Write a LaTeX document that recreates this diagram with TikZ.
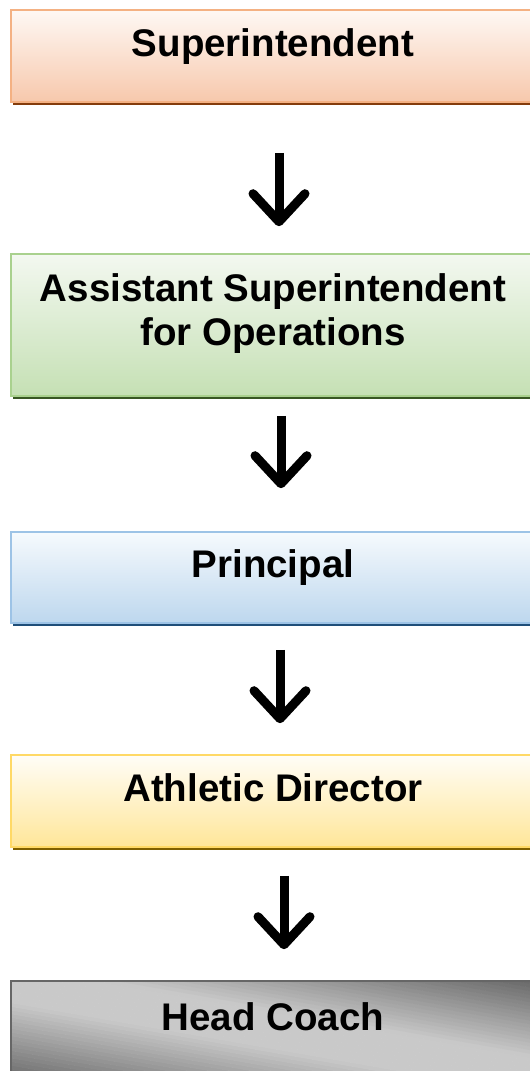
\documentclass[tikz,border=0pt]{standalone}
\usepackage{fontspec}
\setmainfont{Liberation Sans}
\usetikzlibrary{arrows.meta}
\usetikzlibrary{shadows}

\definecolor{supTop}{HTML}{FEF8F4}
\definecolor{supBottom}{HTML}{F7C8AC}
\definecolor{supLine}{HTML}{F4B183}
\definecolor{supShadow}{HTML}{843C0C}
\definecolor{opsTop}{HTML}{F3F8F0}
\definecolor{opsBottom}{HTML}{C5E0B4}
\definecolor{opsLine}{HTML}{A9D18E}
\definecolor{opsShadow}{HTML}{385723}
\definecolor{prinTop}{HTML}{F6FAFD}
\definecolor{prinBottom}{HTML}{BDD7EE}
\definecolor{prinLine}{HTML}{9DC3E6}
\definecolor{prinShadow}{HTML}{1F4E79}
\definecolor{athTop}{HTML}{FFFDF7}
\definecolor{athBottom}{HTML}{FFE699}
\definecolor{athLine}{HTML}{FFD966}
\definecolor{athShadow}{HTML}{7F6000}
\definecolor{coachDark}{HTML}{666666}
\definecolor{coachLight}{HTML}{C9C9C9}
\definecolor{coachLine}{HTML}{666666}

\tikzset{
  orgbox/.style = {rectangle, minimum width = 524pt, minimum height = 92pt, line width = 1.6pt,
    font = \fontsize{38.5}{44}\selectfont\bfseries, align = center,
    text height = 20pt, text depth = 20pt},
  orgshadow/.style = {general shadow = {fill = #1, shadow xshift = 2pt, shadow yshift = -3pt}},
  downarrow/.style = {line width = 9pt, -{Straight Barb[length = 28pt, width = 52pt, round]}}
}

\begin{document}
\begin{tikzpicture}[x = 1pt, y = -1pt]
				\useasboundingbox (0,0) rectangle (530,1071);
				\clip (0,0) rectangle (530,1071);
				%
				\node (sup)[orgbox, orgshadow = supShadow, draw = supLine, top color = supTop, bottom color = supBottom] at (273,56){Superintendent};
				\node (ops)[orgbox, orgshadow = opsShadow, draw = opsLine, top color = opsTop, bottom color = opsBottom,
					minimum height = 142pt, text height = 61.6pt] at (273,325){Assistant Superintendent\\for Operations};
				\node (prin)[orgbox, orgshadow = prinShadow, draw = prinLine, top color = prinTop, bottom color = prinBottom,
					minimum height = 91pt] at (273,577.5){Principal};
				\node (ath)[orgbox, orgshadow = athShadow, draw = athLine, top color = athTop, bottom color = athBottom] at (273,801){Athletic Director};
				%
				% grey fill: light band along the TL-BR diagonal, darker corners BL and TR
				\begin{scope}
				\clip (11,981) rectangle (535,1073);
				\foreach \s in {-1.00,-0.96,...,1.00} {
					\pgfmathsetmacro\mix{min(100, 15+85*(\s+1)/0.75, 100*(1-\s)/0.85)}
					\fill [coachLight!\mix!coachDark] ({11+524*\s},981) -- ({11+524*(\s+0.045)},981)
						-- ({11+524*(\s+1.045)},1073) -- ({11+524*(\s+1)},1073) -- cycle;
				}
				\end{scope}
				\node (coach)[orgbox, draw = coachLine, text height = 26.6pt] at (273,1027){Head Coach};
				%
				\draw [downarrow, shorten < = 50pt, shorten > = 27pt] ([xshift = 6pt]sup.south) -- ([xshift = 6pt]ops.north);
				\draw [downarrow, shorten < = 19pt, shorten > = 43pt] ([xshift = 8pt]ops.south) -- ([xshift = 8pt]prin.north);
				\draw [downarrow, shorten < = 26pt, shorten > = 31pt] ([xshift = 7pt]prin.south) -- ([xshift = 7pt]ath.north);
				\draw [downarrow, shorten < = 28pt, shorten > = 31pt] ([xshift = 11pt]ath.south) -- ([xshift = 11pt]coach.north);
			\end{tikzpicture}
\end{document}
